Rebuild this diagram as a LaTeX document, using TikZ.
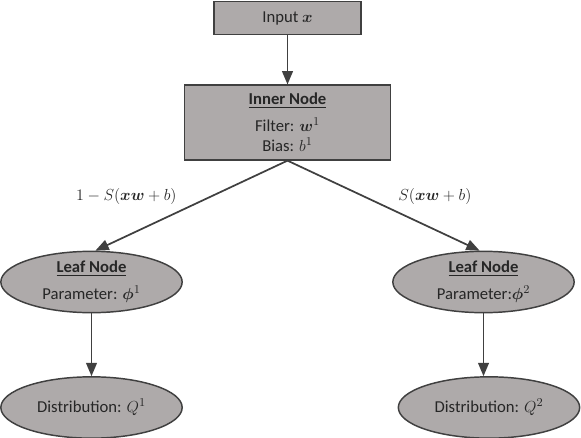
\documentclass[tikz,border=0pt]{standalone}
\usepackage{amsmath}
\usepackage{bm}
\usepackage{fontspec}
\setmainfont{Carlito}
\usepackage{xcolor}
\usetikzlibrary{arrows,shapes}

\definecolor{boxgray}{HTML}{AEAAAA}
\definecolor{linegray}{HTML}{404040}

\begin{document}
\begin{tikzpicture}[x=0.75pt, y=-0.75pt, every node/.style={font=\fontsize{12.5}{15}\selectfont, text=black!85},
                    treebox/.style={rectangle, fill=boxgray, draw=linegray, line width=1.2pt, align=center},
                    treeleaf/.style={ellipse, fill=boxgray, draw=linegray, line width=1.1pt, align=center, inner sep=0pt, minimum width=136pt, minimum height=46pt},
                    treeedge/.style={draw=linegray, line width=1.3pt, -triangle 45}]
                        \useasboundingbox (0,0) rectangle (581,438);
                        % input and inner node
                        \node[treebox, minimum width=110pt, minimum height=25pt] (input) at (287.5,18) {Input $\bm{x}$};
                        \node[treebox, minimum width=154.5pt, minimum height=56pt] (inner) at (287.5,122.5) {\underline{\textbf{Inner Node}}\\[5pt] Filter: $\bm{w}^1$\\ Bias: $b^1$};
                        % leaves
                        \node[treeleaf] (leafl) at (91.5,282) {\underline{\textbf{Leaf Node}}\\[5pt] Parameter: $\bm{\phi}^1$};
                        \node[treeleaf] (leafr) at (483.5,282) {\underline{\textbf{Leaf Node}}\\[5pt] Parameter:$\bm{\phi}^2$};
                        \node[treeleaf] (distl) at (91.5,407.5) {Distribution: $Q^1$};
                        \node[treeleaf] (distr) at (489,407.5) {Distribution: $Q^2$};
                        % connectors
                        \draw[treeedge] (input) -- (inner);
                        \draw[treeedge] (inner.south) -- ([xshift=3pt]leafl.north) node[pos=0.55, above left] {$1-S(\bm{x}\bm{w}+b)$};
                        \draw[treeedge] (inner.south) -- ([xshift=-3pt]leafr.north) node[pos=0.55, above right] {$S(\bm{x}\bm{w}+b)$};
                        \draw[treeedge] (leafl) -- (distl);
                        \draw[treeedge] (leafr.south) -- (leafr.south |- distr.north);
                    \end{tikzpicture}
\end{document}
